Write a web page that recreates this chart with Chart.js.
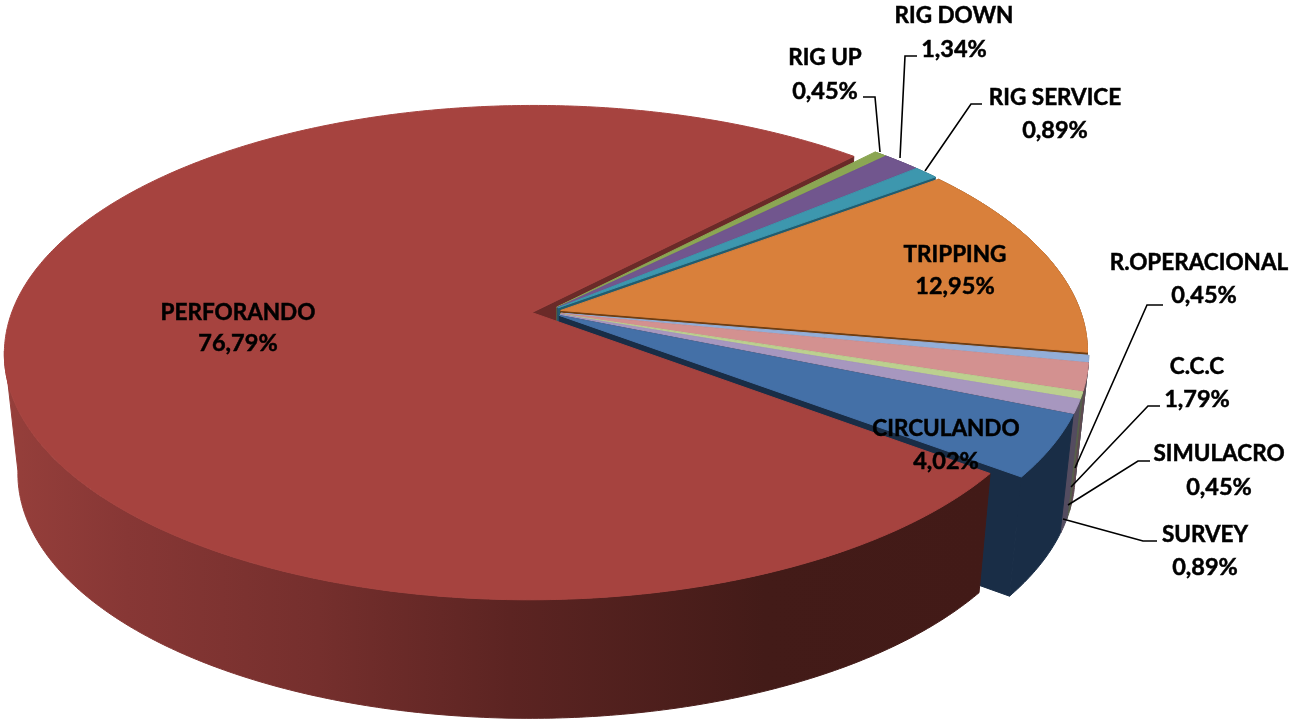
<!DOCTYPE html>
<html><head><meta charset="utf-8">
<style>html,body{margin:0;padding:0;background:#fff;overflow:hidden}canvas{display:block}</style>
<script src="https://cdn.jsdelivr.net/npm/chart.js@4/dist/chart.umd.min.js"></script>
</head><body>
<canvas id="c" width="1290" height="720"></canvas>
<script>
const categories = ['RIG UP','RIG DOWN','RIG SERVICE','TRIPPING','R.OPERACIONAL','C.C.C','SIMULACRO','SURVEY','CIRCULANDO','PERFORANDO'];
const shares = [0.45,1.34,0.89,12.95,0.45,1.79,0.45,0.89,4.02,76.79];
const topColors = ['#8ba653','#71568e','#3d97ae','#d9803b','#93aed8','#d39190','#bcd08f','#a797bf','#4470a7','#a6433f'];
const wallColors = ['#5a6d35','#4a3860','#215c6f','#6e3d12','#4f5b6e','#5e4a50','#56604a','#544c60','#192d46','#6a2a28'];

// camera: projective map of the unit disc, plus the drop to the underside
const view = {cx:546.5, cy:312, B:520, A:240.5, p:0.162, sx:0.975, sy:0.995, drop:120};
const labelSpots = [
 {x:825,y:57.5,dy:34,line:[[863,97],[875,97],[880,152]]},
 {x:954,y:15.5,dy:34,line:[[917,56],[905,56],[900,158]]},
 {x:1055,y:97.5,dy:33,line:[[982,104],[971,104],[925,171]]},
 {x:955,y:254.5,dy:32},
 {x:1199,y:262.5,dy:33,dx2:5,line:[[1163,305],[1147,305],[1075,468]]},
 {x:1197,y:366.5,dy:33,line:[[1160,406],[1148,406],[1071,487]]},
 {x:1219,y:453.5,dy:34,line:[[1150,461],[1138,461],[1068,505]]},
 {x:1205,y:534.5,dy:33,line:[[1157,541],[1143,541],[1063,519]]},
 {x:946,y:428.5,dy:33},
 {x:238,y:312.5,dy:31}
];
const FONT = 'bold 22.5px Lato, "Open Sans", sans-serif';
const FONT_PCT = 'bold 23.5px Lato, "Open Sans", sans-serif';

function proj(u,v){const k=1/(1-view.p*v);return [view.cx+view.B*u*k, view.cy+view.A*v*k];}
function under(P){return [view.cx+view.sx*(P[0]-view.cx), view.cy+view.sy*(P[1]-view.cy)+view.drop];}
function poly(ctx,pts,fill){ctx.beginPath();pts.forEach((q,i)=>i?ctx.lineTo(q[0],q[1]):ctx.moveTo(q[0],q[1]));ctx.closePath();ctx.fillStyle=fill;ctx.strokeStyle=fill;ctx.lineWidth=1;ctx.fill();ctx.stroke();}

function sliceGeom(el){
  const off=(el.options.offset||0)/el.outerRadius;
  const mid=(el.startAngle+el.endAngle)/2;
  const ou=off*Math.cos(mid), ov=off*Math.sin(mid);
  const at=a=>proj(ou+Math.cos(a),ov+Math.sin(a));
  return {apex:proj(ou,ov),at};
}
function arcPts(g,a0,a1){const n=Math.max(2,Math.ceil(Math.abs(a1-a0)/0.01));const r=[];for(let i=0;i<=n;i++)r.push(g.at(a0+(a1-a0)*i/n));return r;}

const pie3d={
  id:'pie3d',
  beforeDatasetsDraw(chart){
    const ctx=chart.ctx, arcs=chart.getDatasetMeta(0).data, last=arcs.length-1;
    ctx.save();
    // rear cut wall of the big slice
    const big=arcs[last], bg=sliceGeom(big);
    const rearRim=bg.at(big.endAngle);
    poly(ctx,[bg.apex,rearRim,under(rearRim),under(bg.apex)],wallColors[last]);
    // remaining slices, back to front
    for(let i=0;i<last;i++){
      const el=arcs[i], g=sliceGeom(el), rim=arcPts(g,el.startAngle,el.endAngle);
      const e=rim[rim.length-1];
      poly(ctx,[g.apex,e,under(e),under(g.apex)],wallColors[i]);
      poly(ctx,rim.concat(rim.map(under).reverse()),wallColors[i]);
      poly(ctx,[g.apex].concat(rim),topColors[i]);
    }
    // big slice: front band, then the top
    const band=arcPts(bg,big.startAngle,Math.PI*0.95);
    const grad=ctx.createLinearGradient(5,0,985,0);
    grad.addColorStop(0,'#963f3b');grad.addColorStop(0.125,'#873735');grad.addColorStop(0.32,'#752f2d');grad.addColorStop(0.515,'#5c2422');grad.addColorStop(0.775,'#431b18');grad.addColorStop(1,'#421a17');
    poly(ctx,band.concat(band.map(under).reverse()),grad);
    poly(ctx,[bg.apex].concat(arcPts(bg,big.startAngle,big.endAngle)),topColors[last]);
    ctx.restore();
    return false;
  },
  afterDraw(chart){
    const ctx=chart.ctx;
    ctx.save();
    ctx.strokeStyle='#000';ctx.lineWidth=1.6;ctx.lineJoin='miter';
    labelSpots.forEach(s=>{if(!s.line)return;ctx.beginPath();s.line.forEach((q,i)=>i?ctx.lineTo(q[0],q[1]):ctx.moveTo(q[0],q[1]));ctx.stroke();});
    ctx.fillStyle='#000';ctx.textAlign='center';ctx.textBaseline='middle';ctx.lineWidth=0.5;
    categories.forEach((c,i)=>{
      const s=labelSpots[i];
      const pct=shares[i].toFixed(2).replace('.',',')+'%';
      ctx.font=FONT;ctx.fillText(c,s.x,s.y);ctx.strokeText(c,s.x,s.y);
      ctx.font=FONT_PCT;ctx.fillText(pct,s.x+(s.dx2||0),s.y+s.dy);ctx.strokeText(pct,s.x+(s.dx2||0),s.y+s.dy);
    });
    ctx.restore();
  }
};

new Chart(document.getElementById('c'),{
  type:'pie',
  data:{labels:categories,datasets:[{data:shares,backgroundColor:topColors,borderWidth:0,offset:10}]},
  options:{responsive:false,animation:false,rotation:43.5,
    plugins:{legend:{display:false},tooltip:{enabled:false},title:{display:false}},
    layout:{padding:0}},
  plugins:[pie3d]
});
</script>
</body></html>
